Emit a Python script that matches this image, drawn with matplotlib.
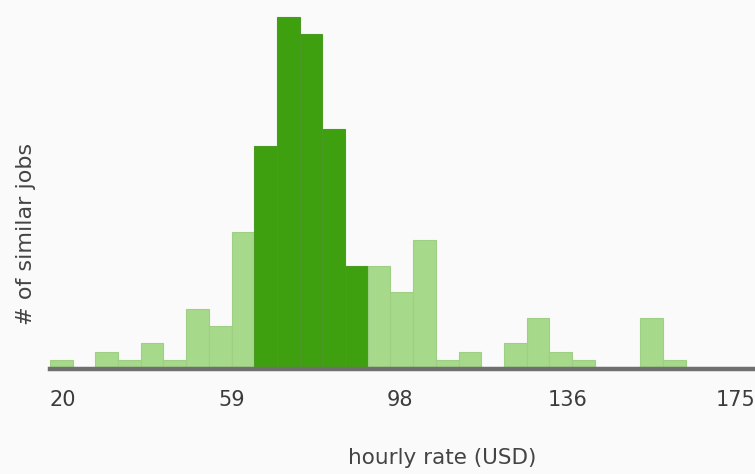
import numpy as np
import matplotlib
matplotlib.use("Agg")
from matplotlib import pyplot as plt

# histogram of hourly rates, counts
counts = [1, 0, 2, 1, 3, 1, 7, 5, 16, 26, 41, 39, 28, 12, 12,
          9, 15, 1, 2, 0, 3, 6, 2, 1, 0, 0, 6, 1, 0, 0, 0]
highlight = [9, 10, 11, 12, 13]  # bins drawn in dark green
rate_min, rate_max = 17.0, 179.1
tick_values = [20, 58.75, 97.5, 136.25, 175]
tick_labels = ["20", "59", "98", "136", "175"]

light = "#a7d98b"
dark = "#3ea00e"
bg = "#fafafa"

edges = np.linspace(rate_min, rate_max, len(counts) + 1)
width = edges[1] - edges[0]
colors = [dark if i in highlight else light for i in range(len(counts))]
edgecol = ["#4c9a26" if i in highlight else "#9fcf85" for i in range(len(counts))]

fig = plt.figure(figsize=(7.55, 4.74), dpi=100, facecolor=bg)
ax = fig.add_axes([50 / 755, 105 / 474, 705 / 755, 369 / 474])
ax.set_facecolor(bg)

ax.bar(edges[:-1], counts, width=width, align="edge", color=colors,
       edgecolor=edgecol, linewidth=0.8)

ax.set_xlim(rate_min, 179.4)
ax.set_ylim(0, 43)

for s in ["top", "right", "left"]:
    ax.spines[s].set_visible(False)
ax.spines["bottom"].set_color("#6f6f6f")
ax.spines["bottom"].set_linewidth(3.2)

ax.set_yticks([])
ax.set_xticks(tick_values)
ax.set_xticklabels(tick_labels)
ax.tick_params(axis="x", length=0, pad=15, labelsize=15, labelcolor="#3c3c3c")

ax.set_xlabel("hourly rate (USD)", fontsize=15.5, color="#444444")
ax.xaxis.set_label_coords(0.556, -0.215)
ax.set_ylabel("# of similar jobs", fontsize=16, color="#444444")
ax.yaxis.set_label_coords(-0.02, 0.365)

fig.savefig("out.png", dpi=100, facecolor=bg)
